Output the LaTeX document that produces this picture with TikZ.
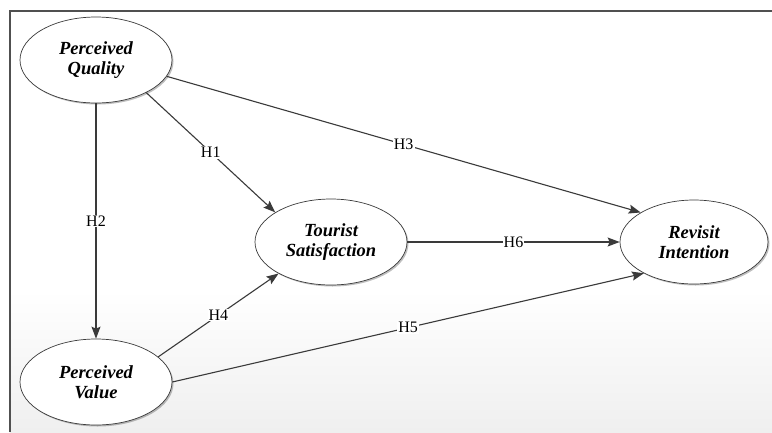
\documentclass[tikz,border=0pt]{standalone}
\usepackage{fontspec}
\setmainfont{Liberation Serif}
\usetikzlibrary{shapes.geometric,arrows.meta,shadows,calc}
\definecolor{linec}{HTML}{3A3A3A}
\definecolor{framec}{HTML}{505050}
\definecolor{bgbot}{HTML}{EFEFEF}
\begin{document}
\begin{tikzpicture}[x=1pt,y=-1pt,
  construct/.style={ellipse,draw=linec,line width=0.7pt,fill=white,
    minimum width=152pt,minimum height=86pt,inner sep=0pt,align=center,
    font=\fontsize{18.5}{20}\selectfont\bfseries\itshape,
    drop shadow={shadow xshift=1.5pt,shadow yshift=-1.5pt,opacity=0.25,fill=black}},
  path/.style={draw=linec,line width=1.1pt,-{Stealth[length=12pt,width=9pt,inset=2pt]}},
  hlab/.style={fill=white,inner sep=1pt,font=\fontsize{16}{18}\selectfont,text=black}]
\useasboundingbox (0,0) rectangle (772,432);
\fill[white] (0,0) rectangle (772,432);
\shade[top color=white,bottom color=bgbot] (10,290) rectangle (772,432);
\draw[framec,line width=2pt] (10,432) -- (10,11) -- (772,11);

\node[construct] (pq) at (96,60) {Perceived\\Quality};
\node[construct] (pv) at (96,382) {Perceived\\Value};
\node[construct] (ts) at (331,242) {Tourist\\Satisfaction};
\node[construct,minimum width=148pt,minimum height=84pt] (ri) at (694,242) {Revisit\\Intention};

\draw[path] (pq.south) -- node[hlab,pos=0.5] (h2) {H2} (pv.north);
\draw[path] (pq.-33) -- node[hlab,pos=0.5] (h1) {H1} (ts.152);
\draw[path] (pq.-13) -- node[hlab,pos=0.5] (h3) {H3} (ri.151);
\draw[path] (ts.east) -- node[hlab,pos=0.5] (h6) {H6} (ri.west);
\draw[path] (pv.22) -- node[hlab,pos=0.5] (h4) {H4} (ts.211);
\draw[path] (pv.east) -- node[hlab,pos=0.5] (h5) {H5} (ri.212);
\end{tikzpicture}
\end{document}
